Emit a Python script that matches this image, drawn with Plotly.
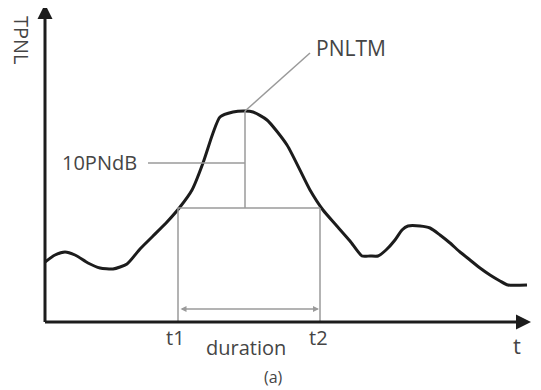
import plotly.graph_objects as go

# Time axis (arbitrary units, left -> right) and TPNL level (arbitrary units, bottom -> top)
t_vals = [45, 55, 65, 75, 88, 100, 113, 127, 140, 153, 167, 180, 192, 203, 213, 220,
          233, 245, 253, 267, 287, 310, 323, 336, 350, 362, 370, 378, 386, 395, 402,
          408, 420, 430, 440, 450, 460, 470, 480, 490, 500, 508, 527]
tpnl_vals = [128, 135, 138, 135, 127, 122, 121, 126, 141, 154, 168, 183, 200, 227, 257, 273,
             278, 279, 278, 270, 245, 200, 180, 165, 149, 134, 134, 134, 140, 150, 160,
             164, 164, 162, 155, 147, 138, 130, 122, 115, 109, 105, 105]

t_origin = 45
t_end = 531
level_origin = 68
level_top = 386
t1 = 178
t2 = 320
t_peak = 245
pnltm = 279
threshold = 182          # PNLTM - 10 PNdB
duration_level = 81
label_10pndb_level = 227
label_10pndb_t = 148

ink = "#1c1c1c"
gray = "#9a9a9a"
txt = "#454545"
font = "Open Sans"

fig = go.Figure()
fig.add_trace(go.Scatter(x=t_vals, y=tpnl_vals, mode="lines",
                         line=dict(color=ink, width=3, shape="spline", smoothing=0.6),
                         hoverinfo="skip", showlegend=False))

shapes = [
    # duration box
    dict(type="line", x0=t1, x1=t1, y0=level_origin, y1=threshold),
    dict(type="line", x0=t2, x1=t2, y0=level_origin, y1=threshold),
    dict(type="line", x0=t1, x1=t2, y0=threshold, y1=threshold),
    # peak vertical
    dict(type="line", x0=t_peak, x1=t_peak, y0=threshold, y1=pnltm),
    # 10PNdB leader
    dict(type="line", x0=label_10pndb_t, x1=t_peak, y0=label_10pndb_level, y1=label_10pndb_level),
    # PNLTM leader
    dict(type="line", x0=t_peak, x1=310, y0=pnltm, y1=337),
]
for s in shapes:
    s.update(xref="x", yref="y", line=dict(color=gray, width=1.5))
fig.update_layout(shapes=shapes)

ann = []
# axes with arrows
ann.append(dict(x=t_origin, y=level_top, ax=t_origin, ay=level_origin - 1.5, xref="x", yref="y",
                axref="x", ayref="y", showarrow=True, arrowhead=2, arrowsize=1, arrowwidth=3,
                arrowcolor=ink, text=""))
ann.append(dict(x=t_end, y=level_origin, ax=t_origin - 1.5, ay=level_origin, xref="x", yref="y",
                axref="x", ayref="y", showarrow=True, arrowhead=2, arrowsize=1, arrowwidth=3,
                arrowcolor=ink, text=""))
# duration double arrow
ann.append(dict(x=t2 - 1, y=duration_level, ax=t1 + 1, ay=duration_level, xref="x", yref="y",
                axref="x", ayref="y", showarrow=True, arrowhead=2, startarrowhead=2,
                arrowside="end+start", arrowsize=0.8, startarrowsize=0.8, arrowwidth=1.5,
                arrowcolor=gray, text=""))

def label(x, y, text, size=20, angle=0, xanchor="center"):
    ann.append(dict(x=x, y=y, xref="x", yref="y", text=text, showarrow=False,
                    textangle=angle, xanchor=xanchor, yanchor="middle",
                    font=dict(family=font, size=size, color=txt)))

label(22, 350, "TPNL", size=20, angle=90)
label(351, 342, "PNLTM", size=21)
label(99, 228, "10PNdB", size=20)
label(175, 53, "t1", size=20)
label(318, 53, "t2", size=20)
label(246, 43, "duration", size=20)
label(517, 45, "t", size=22)
label(273, 13, "(a)", size=16)
fig.update_layout(annotations=ann)

# the page body adds an 8 px offset; shift the visible ranges to compensate
fig.update_layout(
    width=541, height=390,
    margin=dict(l=0, r=0, t=0, b=0),
    paper_bgcolor="white", plot_bgcolor="white",
    xaxis=dict(range=[8, 549], visible=False, fixedrange=True),
    yaxis=dict(range=[-8, 382], visible=False, fixedrange=True),
)

fig.write_html("out.html")
